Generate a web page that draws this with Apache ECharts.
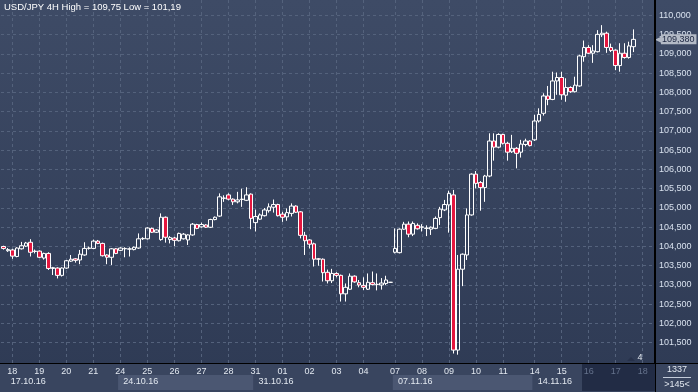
<!DOCTYPE html>
<html><head><meta charset="utf-8">
<script src="https://cdn.jsdelivr.net/npm/echarts@6/dist/echarts.min.js"></script>
<style>html,body{margin:0;padding:0;background:#2f3b55}#c{width:698px;height:392px}</style>
</head><body><div id="c"></div>
<script>
// ---- timeline (4H bars) ----
const dayDates = ['17.10.16','18.10.16','19.10.16','20.10.16','21.10.16','24.10.16','25.10.16','26.10.16','27.10.16','28.10.16','31.10.16','01.11.16','02.11.16','03.11.16','04.11.16','06.11.16','07.11.16','08.11.16','09.11.16','10.11.16','11.11.16','13.11.16','14.11.16','15.11.16','16.11.16','17.11.16','18.11.16'];
const dayBars  = [2,6,6,6,6,6,6,6,6,6,6,6,6,6,6,1,6,6,6,6,6,1,6,6,6,6,3];
const dimDays  = ['16.11.16','17.11.16','18.11.16'];
// ---- OHLC values ----
const opens = [104.00,103.89,103.91,103.74,103.94,104.01,104.11,103.88,103.88,103.70,103.82,103.43,103.44,103.25,103.44,103.62,103.68,103.65,103.78,103.95,103.95,104.14,104.08,103.78,103.72,103.94,103.90,103.95,103.93,103.92,103.96,104.20,104.20,104.47,104.37,104.18,104.76,104.18,104.22,104.15,104.20,104.17,104.30,104.57,104.51,104.56,104.50,104.70,104.79,105.25,105.34,105.23,105.16,105.22,105.20,105.36,104.62,104.71,104.80,104.93,105.02,105.09,104.84,104.77,104.86,105.05,104.90,104.29,104.17,104.07,103.68,103.67,103.33,103.11,103.30,103.25,102.77,102.89,103.23,103.06,102.99,102.89,103.06,103.01,103.00,103.04,103.07,103.85,103.84,104.45,104.58,104.32,104.55,104.50,104.47,104.45,104.47,104.75,104.95,105.08,105.34,101.31,103.41,103.78,104.82,105.88,105.66,105.53,105.83,106.74,106.58,106.91,106.68,106.46,106.55,106.45,106.65,106.74,106.77,107.26,107.46,107.91,107.82,108.30,108.39,107.93,108.13,108.02,108.17,108.93,109.17,109.02,109.06,109.50,109.54,109.17,109.10,108.70,109.02,108.91,109.19];
const closes = [103.95,103.92,103.75,103.96,104.02,104.09,103.85,103.87,103.72,103.82,103.43,103.45,103.25,103.44,103.63,103.67,103.64,103.80,103.95,103.96,104.14,104.08,103.76,103.72,103.94,103.82,103.96,103.94,103.94,103.98,104.20,104.21,104.48,104.37,104.43,104.76,104.24,104.23,104.16,104.34,104.32,104.30,104.58,104.47,104.57,104.50,104.70,104.76,105.29,105.26,105.23,105.16,105.21,105.23,105.34,104.73,104.78,104.82,104.95,105.03,105.09,104.80,104.76,104.88,105.05,104.89,104.29,104.15,104.06,103.67,103.67,103.32,103.11,103.30,103.25,102.77,102.94,103.23,103.08,103.00,102.94,103.07,103.01,103.02,103.05,103.13,103.07,103.95,104.45,104.58,104.32,104.60,104.46,104.51,104.48,104.50,104.73,104.97,105.09,105.38,101.31,103.41,103.80,104.82,105.88,105.64,105.53,105.83,106.74,106.58,106.91,106.68,106.45,106.55,106.42,106.66,106.74,106.62,107.26,107.43,107.91,107.82,108.30,108.39,107.94,108.13,108.02,108.19,108.95,109.17,109.02,109.08,109.51,109.54,109.17,109.09,108.70,109.02,108.91,109.21,109.38];
const lows   = [103.92,103.86,103.68,103.72,103.92,103.99,103.74,103.82,103.70,103.66,103.39,103.26,103.17,103.22,103.42,103.60,103.58,103.54,103.76,103.92,103.93,104.06,103.74,103.54,103.52,103.80,103.88,103.72,103.74,103.90,103.94,104.17,104.18,104.35,104.35,104.15,104.10,104.08,104.01,104.13,104.18,104.04,104.28,104.45,104.49,104.48,104.48,104.68,104.77,105.16,105.20,105.08,105.12,105.03,105.18,104.45,104.39,104.69,104.78,104.88,104.88,104.78,104.64,104.67,104.78,104.87,104.21,103.78,103.95,103.48,103.50,103.09,103.04,103.05,103.20,102.57,102.57,102.87,103.06,102.94,102.87,102.87,102.99,102.86,102.88,103.00,103.06,103.82,103.82,104.43,104.24,104.27,104.44,104.39,104.27,104.30,104.45,104.56,104.92,104.36,101.22,101.19,102.97,103.65,104.80,105.51,104.93,105.16,105.80,106.23,106.55,106.65,106.23,106.43,106.03,106.31,106.60,106.60,106.74,107.22,107.40,107.67,107.80,107.94,107.81,107.76,107.99,108.00,108.15,108.80,109.00,108.77,109.04,109.44,109.03,109.05,108.58,108.54,108.88,108.88,109.05];
const highs  = [104.02,103.96,103.94,103.98,104.12,104.12,104.19,103.92,103.90,103.84,103.85,103.47,103.46,103.46,103.65,103.78,103.70,103.91,104.11,104.00,104.18,104.17,104.10,103.80,103.96,103.96,103.98,103.98,103.98,104.00,104.34,104.24,104.50,104.49,104.45,104.86,104.78,104.27,104.25,104.36,104.35,104.32,104.61,104.59,104.62,104.58,104.72,104.78,105.38,105.33,105.38,105.25,105.42,105.50,105.54,105.38,104.96,104.86,105.00,105.12,105.22,105.11,104.90,104.99,105.12,105.07,104.92,104.38,104.19,104.10,103.70,103.69,103.40,103.42,103.33,103.27,103.04,103.30,103.25,103.13,103.20,103.30,103.35,103.30,103.18,103.24,103.08,104.47,104.47,104.64,104.65,104.65,104.60,104.58,104.55,104.52,104.78,105.03,105.21,105.45,105.47,103.78,103.82,104.99,105.90,105.96,105.70,105.86,106.94,106.94,106.94,106.93,106.72,106.90,106.58,106.77,106.80,106.76,107.42,107.59,107.98,108.17,108.54,108.52,108.54,108.37,108.16,108.41,108.98,109.35,109.23,109.23,109.62,109.75,109.58,109.27,109.12,109.28,109.28,109.32,109.64];
// ---- price axis tick labels ----
const yTicks = [101.5,102,102.5,103,103.5,104,104.5,105,105.5,106,106.5,107,107.5,108,108.5,109,109.5,110];
const yMin = 100.974, yMax = 110.4026;

// build categories
const cats = [], dayStart = new Set(), mondayStart = new Set(), weekOf = [];
let curWeek = '';
dayDates.forEach((d, k) => {
  const [dd, mm, yy] = d.split('.').map(Number);
  const wd = new Date(2000 + yy, mm - 1, dd).getDay();
  const hrs = [0,4,8,12,16,20];
  const n = dayBars[k];
  const use = (k === 0 || wd === 0) ? hrs.slice(6 - n) : hrs.slice(0, n);
  if (wd === 1) curWeek = d;
  use.forEach((h, j) => {
    const idx = cats.length;
    if (j === 0 && wd !== 0 && k > 0) dayStart.add(idx);
    if (j === 0 && wd === 1) mondayStart.add(idx);
    weekOf.push(curWeek);
    cats.push(d + ' ' + String(h).padStart(2, '0') + ':00');
  });
});
const ohlc = opens.map((o, i) => [o, closes[i], lows[i], highs[i]]);
const lastClose = closes[closes.length - 1];
const fmt = (v, n) => v.toFixed(n).replace('.', ',');
const hi = Math.max(...highs), lo = Math.min(...lows);

const chart = echarts.init(document.getElementById('c'), null, {renderer: 'canvas'});
const FF = 'Liberation Sans, Arial, sans-serif';
chart.setOption({
  animation: false,
  backgroundColor: {type: 'linear', x: 0, y: 0, x2: 0, y2: 1,
    colorStops: [{offset: 0, color: '#3e4b66'}, {offset: 1, color: '#2e3a54'}]},
  title: {text: 'USD/JPY 4H High = ' + fmt(hi, 2) + ' Low = ' + fmt(lo, 2), left: 4, top: 2, padding: 0,
    textStyle: {color: '#ffffff', fontSize: 9.5, fontWeight: 'normal', fontFamily: FF}},
  grid: [
    {left: 1, right: 44, top: 0, bottom: 29},
    {left: 1, right: 44, top: 375, height: 15}
  ],
  xAxis: [
    {type: 'category', data: cats, gridIndex: 0, boundaryGap: true,
      axisLine: {show: true, lineStyle: {color: '#000', width: 1}},
      axisTick: {show: false},
      axisLabel: {interval: (i) => dayStart.has(i), formatter: (v) => v.slice(0, 2),
        color: (v) => dimDays.includes(v.slice(0, 8)) ? '#65728c' : '#e2e8f0',
        fontSize: 9, fontFamily: FF, margin: 4},
      splitLine: {show: true, interval: (i) => dayStart.has(i), alignWithLabel: true,
        lineStyle: {color: '#54627c', type: [3, 3], width: 1}}
    },
    {type: 'category', data: cats, gridIndex: 1, position: 'top', boundaryGap: true,
      axisLine: {show: false}, axisTick: {show: false},
      axisLabel: {inside: true, interval: (i) => i === 1 || (mondayStart.has(i) && i > 0),
        formatter: (v) => weekOf[cats.indexOf(v)], align: 'left', padding: [0, 0, 0, 3],
        color: '#e2e8f0', fontSize: 9, fontFamily: FF, margin: 2},
      splitArea: {show: true, interval: (i) => mondayStart.has(i),
        areaStyle: {color: ['rgba(0,0,0,0)', '#4b5772']}}
    }
  ],
  yAxis: [
    {type: 'value', gridIndex: 0, position: 'right', min: yMin, max: yMax,
      axisLine: {show: true, lineStyle: {color: '#000'}},
      axisTick: {show: false, customValues: yTicks},
      axisLabel: {customValues: yTicks, formatter: (v) => fmt(v, 3), color: '#d8e1ee',
        fontSize: 9, fontFamily: FF, margin: 5},
      splitLine: {show: true, lineStyle: {color: '#54627c', type: [3, 3], width: 1}}
    },
    {type: 'value', gridIndex: 1, show: false}
  ],
  graphic: [
    {type: 'rect', shape: {x: 0, y: 364, width: 698, height: 28}, style: {fill: '#39455f'}, z: -100},
    {type: 'rect', shape: {x: 582, y: 364, width: 73, height: 27}, style: {fill: '#222c45'}, z: -99},
    {type: 'line', shape: {x1: 0, y1: 363.5, x2: 698, y2: 363.5}, style: {stroke: '#000', lineWidth: 1}, z: 100},
    {type: 'line', shape: {x1: 655.5, y1: 0, x2: 655.5, y2: 392}, style: {stroke: '#000', lineWidth: 1}, z: 100},
    {type: 'line', shape: {x1: 663, y1: 377.5, x2: 691, y2: 377.5}, style: {stroke: '#c4ccda', lineWidth: 1}, z: 100},
    {type: 'polygon', shape: {points: [[627, 361], [635, 361], [631, 357]]}, style: {fill: '#27314a'}, z: 100},
    {type: 'text', style: {text: '1337', x: 677, y: 370, align: 'center', verticalAlign: 'middle', fill: '#e2e8f0', font: '9px ' + FF}, z: 100},
    {type: 'text', style: {text: '>145<', x: 677, y: 384.5, align: 'center', verticalAlign: 'middle', fill: '#e2e8f0', font: '9px ' + FF}, z: 100},
    {type: 'text', style: {text: '4', x: 640, y: 358, align: 'center', verticalAlign: 'middle', fill: '#e2e8f0', font: '9px ' + FF}, z: 100}
  ],
  series: [
    {type: 'candlestick', xAxisIndex: 0, yAxisIndex: 0, data: ohlc, barWidth: 4,
      itemStyle: {color: 'rgba(0,0,0,0)', color0: '#e5173f', borderColor: '#ffffff', borderColor0: '#ffffff', borderWidth: 1},
      markLine: {silent: true, symbol: ['none', 'none'], animation: false,
        lineStyle: {color: 'rgba(0,0,0,0)'},
        label: {show: true, position: 'end', distance: 1,
          formatter: () => '{a|◀}{b|' + fmt(lastClose, 3) + '}',
          rich: {a: {color: '#b3bac6', fontSize: 9, fontFamily: 'DejaVu Sans', padding: [0, -1, 0, 0]},
                 b: {backgroundColor: '#b3bac6', color: '#1b2540', fontSize: 9, fontFamily: FF, padding: [1, 2, 0, 1]}}},
        data: [{yAxis: lastClose}]}
    }
  ]
});
</script></body></html>
